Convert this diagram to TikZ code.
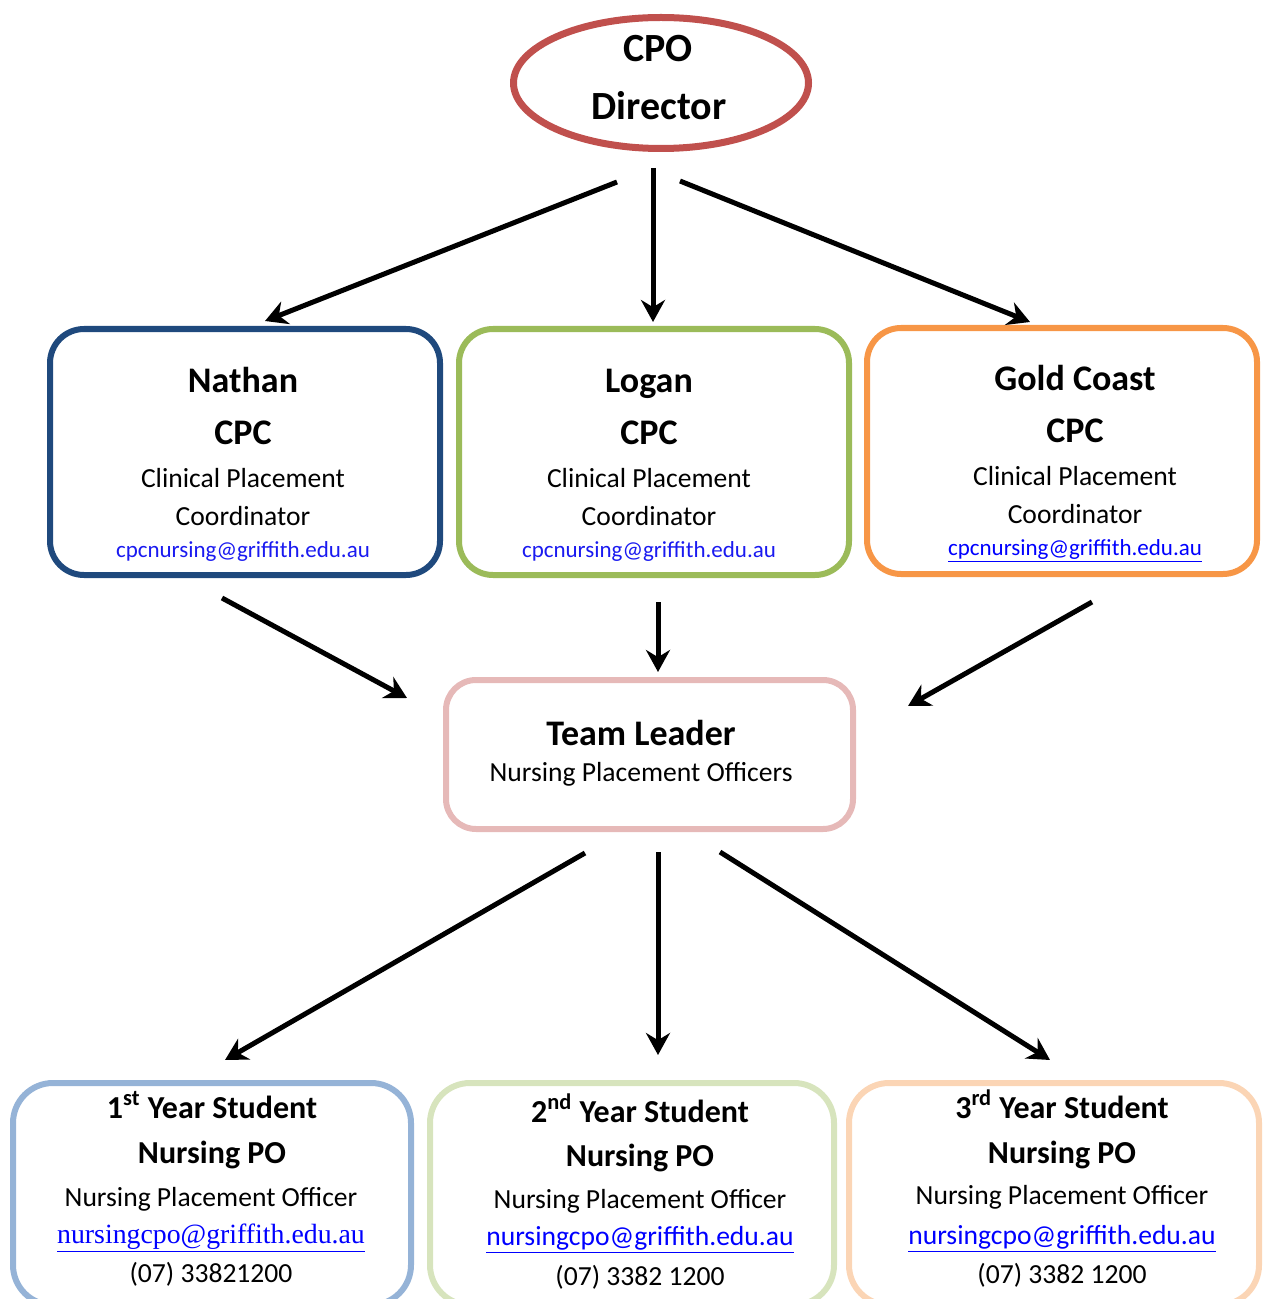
\documentclass[tikz,border=0pt]{standalone}
\usepackage{fontspec}
\setmainfont{Carlito}
\newfontfamily\serifmail{Liberation Serif}
\usetikzlibrary{shapes.geometric,arrows.meta,calc}

\definecolor{dirred}{HTML}{C0504D}
\definecolor{natblue}{HTML}{1F497D}
\definecolor{logreen}{HTML}{9BBB59}
\definecolor{gcorange}{HTML}{F79646}
\definecolor{tlpink}{HTML}{E6B9B8}
\definecolor{yrblue}{HTML}{95B3D7}
\definecolor{yrgreen}{HTML}{D7E4BD}
\definecolor{yrorange}{HTML}{FBD5B5}
\definecolor{mailblue}{HTML}{1A1AF0}

\tikzset{
    box/.style={draw, line width=3pt, rounded corners=17pt, inner sep=0pt},
    cpcbox/.style={box, minimum width=195pt, minimum height=123pt},
    yearbox/.style={box, rounded corners=20pt, minimum height=111pt},
    txt/.style={anchor=base, inner sep=0pt},
    head/.style={txt, font=\bfseries\fontsize{18}{22}\selectfont},
    subhead/.style={txt, font=\bfseries\fontsize{16}{20}\selectfont},
    plain/.style={txt, font=\fontsize{13.8}{16}\selectfont},
    cpcmail/.style={txt, text=mailblue, font=\fontsize{11.5}{14}\selectfont},
    arr/.style={line width=2.5pt, -{Stealth[length=11pt,width=12pt]}}
}

\begin{document}
\begin{tikzpicture}[x=0.5pt, y=-0.5pt]
        \useasboundingbox (0,0) rectangle (1263,1299);
        \clip (0,0) rectangle (1263,1299);
        % The director on top.
            \node[draw=dirred, ellipse, line width=3.5pt, minimum width=147.5pt, minimum height=65.5pt, inner sep=0pt] (dir) at (661,83) {};
            \node[txt, font=\bfseries\fontsize{20}{24}\selectfont] (dir-a) at (658,62) {CPO};
            \node[txt, font=\bfseries\fontsize{20}{24}\selectfont] (dir-b) at (659,120) {Director};
        % The three CPC boxes.
            \node[cpcbox, draw=natblue] (nat) at (245,452) {};
            \node[cpcbox, draw=logreen] (log) at (654,452) {};
            \node[cpcbox, draw=gcorange] (gc) at (1062,451) {};
            \node[head] (nat-a) at (243,392) {Nathan};
            \node[head] (nat-b) at (243,444) {CPC};
            \node[plain] (nat-c) at (243,487) {Clinical Placement};
            \node[plain] (nat-d) at (243,525) {Coordinator};
            \node[cpcmail] (nat-e) at (243,557) {cpcnursing@griffith.edu.au};
            \node[head] (log-a) at (649,392) {Logan};
            \node[head] (log-b) at (649,444) {CPC};
            \node[plain] (log-c) at (649,487) {Clinical Placement};
            \node[plain] (log-d) at (649,525) {Coordinator};
            \node[cpcmail] (log-e) at (649,557) {cpcnursing@griffith.edu.au};
            \node[head] (gc-a) at (1075,390) {Gold Coast};
            \node[head] (gc-b) at (1075,442) {CPC};
            \node[plain] (gc-c) at (1075,485) {Clinical Placement};
            \node[plain] (gc-d) at (1075,523) {Coordinator};
            \node[cpcmail, text=blue] (gc-e) at (1075,555) {\underline{cpcnursing@griffith.edu.au}};
        % Team leader in the middle.
            \node[box, draw=tlpink, rounded corners=15pt, minimum width=203.5pt, minimum height=74.5pt] (tl) at (649.5,754.5) {};
            \node[head] (tl-a) at (641,745) {Team Leader};
            \node[plain] (tl-b) at (641,781) {Nursing Placement Officers};
        % The three year boxes, cut off at the bottom.
            \node[yearbox, draw=yrblue, minimum width=199pt] (yr1) at (212,1194) {};
            \node[yearbox, draw=yrgreen, minimum width=202pt] (yr2) at (632,1194) {};
            \node[yearbox, draw=yrorange, minimum width=205pt] (yr3) at (1054,1194) {};
            \node[subhead] (yr1-a) at (212,1118) {1\textsuperscript{st} Year Student};
            \node[subhead] (yr1-b) at (212,1163) {Nursing PO};
            \node[plain] (yr1-c) at (211,1206) {Nursing Placement Officer};
            \node[txt, text=blue, font=\serifmail\fontsize{13.9}{16}\selectfont] (yr1-d) at (211,1243) {\underline{nursingcpo@griffith.edu.au}};
            \node[plain] (yr1-e) at (211,1282) {(07) 33821200};
            \node[subhead] (yr2-a) at (640,1122) {2\textsuperscript{nd} Year Student};
            \node[subhead] (yr2-b) at (640,1166) {Nursing PO};
            \node[plain] (yr2-c) at (640,1208) {Nursing Placement Officer};
            \node[plain, text=blue] (yr2-d) at (640,1245) {\underline{nursingcpo@griffith.edu.au}};
            \node[plain] (yr2-e) at (640,1285) {(07) 3382 1200};
            \node[subhead] (yr3-a) at (1062,1118) {3\textsuperscript{rd} Year Student};
            \node[subhead] (yr3-b) at (1062,1163) {Nursing PO};
            \node[plain] (yr3-c) at (1062,1204) {Nursing Placement Officer};
            \node[plain, text=blue] (yr3-d) at (1062,1244) {\underline{nursingcpo@griffith.edu.au}};
            \node[plain] (yr3-e) at (1062,1283) {(07) 3382 1200};
        % Arrows, they stop short of the boxes.
            \draw[arr] ($(dir.south)+(-44,30)$) -- ($(nat.north)+(20,-5)$);
            \draw[arr] ($(dir.south)+(-8,16)$) -- ($(log.north)+(-1,-4)$);
            \draw[arr] ($(dir.south)+(19,29)$) -- ($(gc.north)+(-32,-3)$);
            \draw[arr] ($(nat.south)+(-23,20)$) -- ($(tl.north west)+(-36,21)$);
            \draw[arr] ($(log.south)+(4,24)$) -- ($(tl.north)+(8.5,-5)$);
            \draw[arr] ($(gc.south)+(30,25)$) -- ($(tl.north east)+(52,29)$);
            \draw[arr] ($(tl.south)+(-64.5,21)$) -- ($(yr1.north)+(13,-20)$);
            \draw[arr] ($(tl.south)+(8.5,20)$) -- ($(yr2.north)+(26,-25)$);
            \draw[arr] ($(tl.south)+(70.5,20)$) -- ($(yr3.north)+(-4,-20)$);
    \end{tikzpicture}
\end{document}
